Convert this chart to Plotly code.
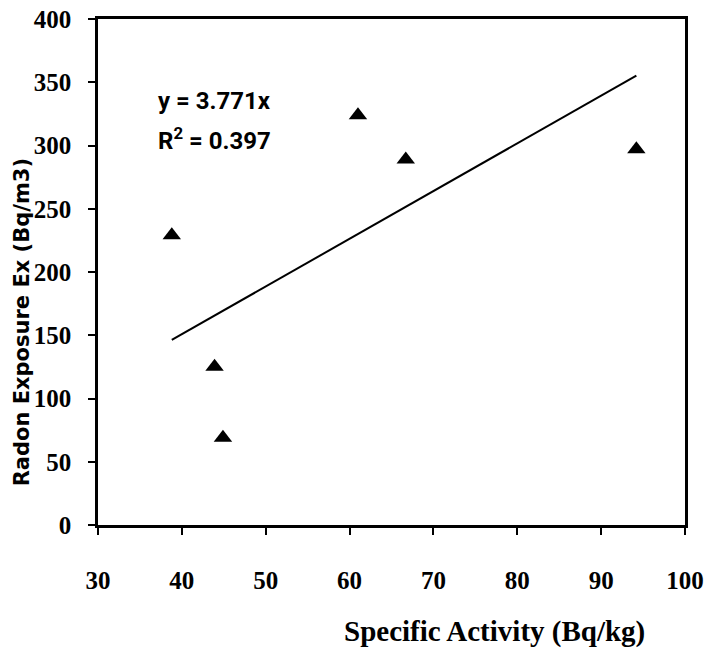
import plotly.graph_objects as go

# Data
specific_activity = [38.8, 43.9, 44.9, 61.0, 66.7, 94.2]
radon_exposure = [229, 125, 69, 324, 289, 297]
slope = 3.771
r_squared = 0.397
x_ticks = [30, 40, 50, 60, 70, 80, 90, 100]
y_ticks = [0, 50, 100, 150, 200, 250, 300, 350, 400]

x_min, x_max = min(specific_activity), max(specific_activity)
trend_x = [x_min, x_max]
trend_y = [slope * v for v in trend_x]

fig = go.Figure()
fig.add_trace(go.Scatter(
    x=trend_x, y=trend_y, mode="lines",
    line=dict(color="black", width=2), showlegend=False, hoverinfo="skip"))
fig.add_trace(go.Scatter(
    x=specific_activity, y=radon_exposure, mode="markers",
    marker=dict(symbol="triangle-up", size=16, color="black"),
    showlegend=False))

tick_font = dict(family="Liberation Serif, Times New Roman, serif", size=25, color="black", weight="bold")
eq_font = dict(family="Roboto, sans-serif", size=24, color="black", weight="bold")

fig.update_layout(
    width=707, height=659,
    margin=dict(l=98, r=22, t=19, b=134),
    paper_bgcolor="white", plot_bgcolor="white",
    xaxis=dict(range=[30, 100], tickvals=x_ticks, ticks="outside", ticklen=7,
               tickwidth=1.5, tickcolor="black", showgrid=False, zeroline=False,
               showline=True, linecolor="black", linewidth=2.5, mirror=True,
               tickfont=tick_font, ticklabelstandoff=24, automargin=False),
    yaxis=dict(range=[0, 400], tickvals=y_ticks, ticks="outside", ticklen=7,
               tickwidth=1.5, tickcolor="black", showgrid=False, zeroline=False,
               showline=True, linecolor="black", linewidth=2.5, mirror=True,
               tickfont=tick_font, ticklabelstandoff=12, automargin=False),
    annotations=[
        dict(text="Specific Activity (Bq/kg)", xref="paper", yref="paper",
             x=0.676, y=-0.211, showarrow=False, xanchor="center", yanchor="middle",
             font=dict(family="Liberation Serif, Times New Roman, serif", size=29,
                       color="black", weight="bold")),
        dict(text="Radon Exposure Ex (Bq/m3)", xref="paper", yref="paper",
             x=-0.129, y=0.401, showarrow=False, textangle=-90,
             xanchor="center", yanchor="middle",
             font=dict(family="DejaVu Sans, Verdana, sans-serif", size=21,
                       color="black", weight="bold")),
        dict(text=f"y = {slope}x", xref="paper", yref="paper",
             x=(156 - 98) / 587, y=(525 - 101) / 506, showarrow=False,
             xanchor="left", yanchor="middle", align="left", font=eq_font),
        dict(text=f"R<sup>2</sup> = {r_squared}", xref="paper", yref="paper",
             x=(156 - 98) / 587, y=(525 - 139) / 506, showarrow=False,
             xanchor="left", yanchor="middle", align="left", font=eq_font),
    ],
)

fig.write_html("out.html", post_script="document.body.style.margin='0';",
               config={"displayModeBar": False})
